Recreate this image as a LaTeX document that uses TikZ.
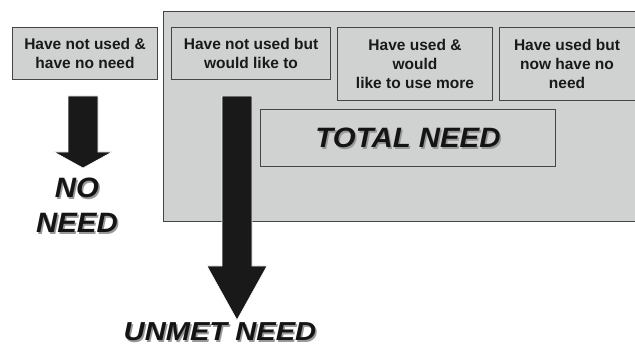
\documentclass[tikz,border=0pt]{standalone}
\usepackage{fontspec}
\setmainfont{Liberation Sans}
\begin{document}
\begin{tikzpicture}[x=1pt,y=-1pt,
  boxfill/.style={fill=gfill, draw=gborder, line width=1pt},
  smalltext/.style={font=\fontsize{15.5}{19}\selectfont\bfseries, align=center, text=black!90},
  bigtext/.style={font=\fontsize{28}{35}\selectfont\bfseries\itshape, align=center, text=black!92, xscale=1.05, inner sep=0pt},
  shadowtext/.style={font=\fontsize{28}{35}\selectfont\bfseries\itshape, align=center, text=black!40, xscale=1.05, inner sep=0pt},
  unmetfont/.style={font=\fontsize{26}{32}\selectfont\bfseries\itshape, xscale=1.12/1.05},
  arrowfill/.style={fill=black!90, draw=white, line width=0.6pt}]
\definecolor{gfill}{HTML}{D0D2D2}
\definecolor{gborder}{HTML}{454545}
\useasboundingbox (0,0) rectangle (635,347);
\begin{scope}
\clip (0,0) rectangle (635,347);
% big total region
\draw[boxfill] (163,12) rectangle (645,222);
\node[boxfill, minimum width=145pt, minimum height=52pt, anchor=north west] (b1) at (12,27) {};
\node[smalltext] (t1) at (b1.center) {Have not used \&\\have no need};
\node[boxfill, minimum width=159pt, minimum height=52pt, anchor=north west] (b2) at (171,27) {};
\node[smalltext] (t2) at (b2.center) {Have not used but\\would like to};
\node[boxfill, minimum width=155pt, minimum height=73pt, anchor=north west] (b3) at (337,27) {};
\node[smalltext] (t3) at (b3.center) {Have used \&\\would\\like to use more};
\node[boxfill, minimum width=160pt, minimum height=73pt, anchor=north west] (b4) at (499,27) {};
\node[smalltext] (t4) at (567,63.5) {Have used but\\now have no\\need};
\node[boxfill, minimum width=295pt, minimum height=57pt, anchor=north west] (tn) at (260,109) {};
\node[shadowtext] at ([xshift=1.5pt,yshift=-1.5pt]tn.center) {TOTAL NEED};
\node[bigtext] (tnt) at (tn.center) {TOTAL NEED};
% arrows
\draw[arrowfill] (68,96) -- (98,96) -- (98,152) -- (112,152) -- (83,168) -- (54,152) -- (68,152) -- cycle;
\draw[arrowfill] (222,96) -- (252,96) -- (252,266) -- (267,266) -- (237,320) -- (207,266) -- (222,266) -- cycle;
% labels
\node[shadowtext] at (78.5,189.5) {NO};
\node[bigtext] (no) at (77,188) {NO};
\node[shadowtext] at (78.5,224.5) {NEED};
\node[bigtext] (need) at (77,223) {NEED};
\node[shadowtext, unmetfont] at (221.5,333.5) {UNMET NEED};
\node[bigtext, unmetfont] (unmet) at (220,332) {UNMET NEED};
\end{scope}
\end{tikzpicture}
\end{document}
